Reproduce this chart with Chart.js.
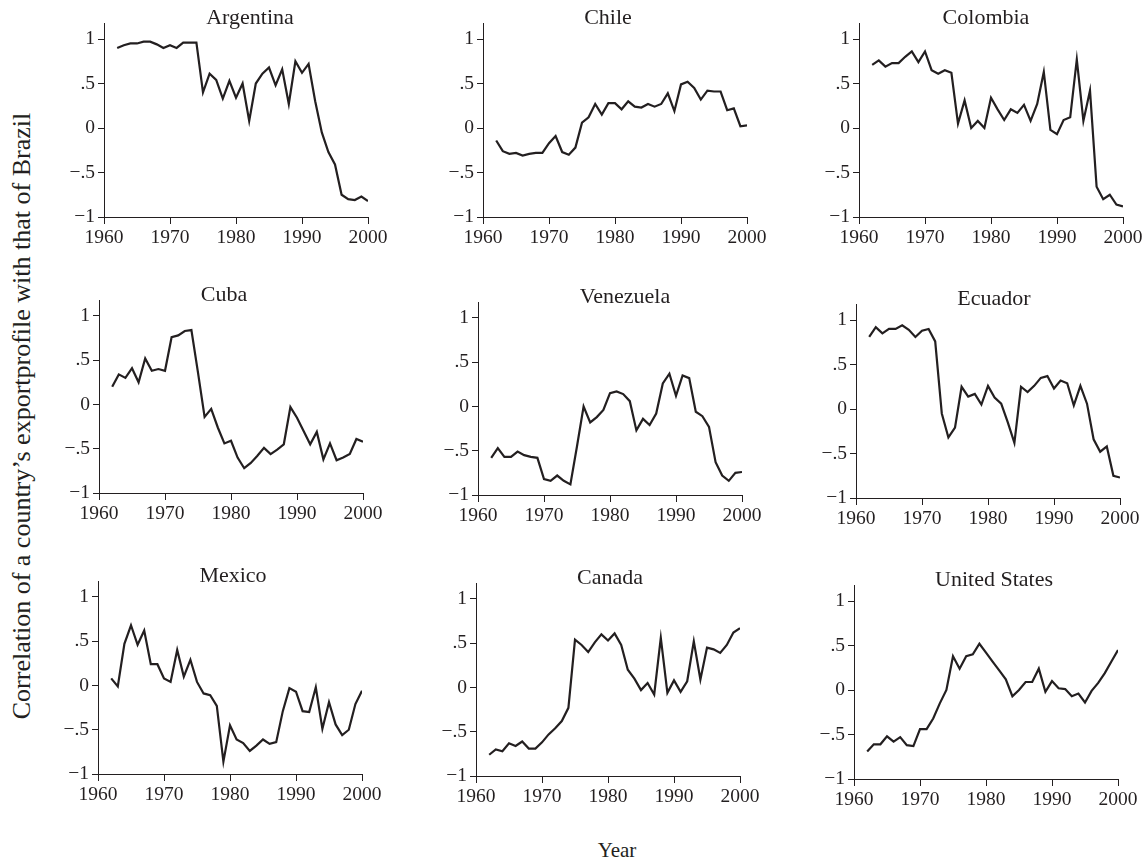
<!DOCTYPE html>
<html>
<head>
<meta charset="utf-8">
<script src="https://cdn.jsdelivr.net/npm/chart.js@4.4.1/dist/chart.umd.min.js"></script>
<style>
html,body{margin:0;padding:0;background:#fff;width:1144px;height:862px;overflow:hidden;position:relative;}
canvas{position:absolute;}
.lbl{position:absolute;font-family:'Liberation Serif','Times New Roman',serif;color:#231f20;white-space:nowrap;line-height:1;}
#ytitle{left:22px;top:416px;font-size:26px;transform:translate(-50%,-50%) rotate(-90deg);}
#xtitle{left:617px;top:840px;font-size:21px;transform:translateX(-50%);}
</style>
</head>
<body>
<div id="ytitle" class="lbl">Correlation of a country’s exportprofile with that of Brazil</div>
<div id="xtitle" class="lbl">Year</div>
<script>
// ---------- data ----------
const years = [1962,1963,1964,1965,1966,1967,1968,1969,1970,1971,1972,1973,1974,
               1975,1976,1977,1978,1979,1980,1981,1982,1983,1984,
               1985,1986,1987,1988,1989,1990,1991,1992,1993,1994,
               1995,1996,1997,1998,1999,2000];
const xTicks = [1960,1970,1980,1990,2000];
const yTicks = [-1,-0.5,0,0.5,1];
const yTickLabels = ['\u22121','\u2212.5','0','.5','1'];
const countries = ['Argentina','Chile','Colombia','Cuba','Venezuela','Ecuador','Mexico','Canada','United States'];

const argentina = [0.90,0.93,0.95,0.95,0.97,0.97,0.94,0.90,0.93,0.90,0.96,0.96,0.96,
                   0.40,0.61,0.54,0.33,0.53,0.34,0.50,0.08,0.50,0.61,
                   0.68,0.48,0.66,0.27,0.75,0.62,0.72,0.30,-0.05,-0.27,
                   -0.41,-0.75,-0.80,-0.81,-0.77,-0.82];
const chile = [-0.14,-0.26,-0.29,-0.28,-0.31,-0.29,-0.28,-0.28,-0.17,-0.09,-0.27,-0.30,-0.22,
               0.06,0.12,0.27,0.15,0.28,0.28,0.21,0.30,0.24,0.23,
               0.27,0.24,0.27,0.39,0.19,0.49,0.52,0.45,0.32,0.42,
               0.41,0.41,0.20,0.22,0.02,0.03];
const colombia = [0.71,0.76,0.69,0.73,0.73,0.80,0.86,0.74,0.86,0.65,0.61,0.65,0.62,
                  0.05,0.31,0.00,0.08,0.00,0.34,0.21,0.09,0.21,0.17,
                  0.26,0.08,0.27,0.63,-0.02,-0.07,0.09,0.12,0.77,0.08,
                  0.42,-0.66,-0.80,-0.75,-0.86,-0.88];
const cuba = [0.20,0.34,0.30,0.41,0.25,0.52,0.38,0.40,0.38,0.76,0.78,0.83,0.84,
              0.36,-0.14,-0.05,-0.26,-0.44,-0.41,-0.60,-0.72,-0.66,-0.58,
              -0.49,-0.56,-0.51,-0.45,-0.03,-0.15,-0.30,-0.45,-0.31,-0.62,
              -0.44,-0.63,-0.60,-0.56,-0.39,-0.42];
const venezuela = [-0.58,-0.47,-0.57,-0.57,-0.51,-0.55,-0.57,-0.58,-0.82,-0.84,-0.78,-0.84,-0.88,
                   -0.45,0.00,-0.18,-0.12,-0.04,0.15,0.17,0.14,0.06,-0.27,
                   -0.14,-0.21,-0.08,0.26,0.37,0.12,0.35,0.32,-0.06,-0.11,
                   -0.23,-0.63,-0.78,-0.84,-0.75,-0.74];
const ecuador = [0.81,0.92,0.85,0.90,0.90,0.94,0.89,0.81,0.88,0.90,0.76,-0.05,-0.32,
                 -0.21,0.25,0.14,0.17,0.05,0.26,0.13,0.06,-0.15,-0.38,
                 0.25,0.19,0.26,0.35,0.37,0.23,0.32,0.29,0.04,0.26,
                 0.06,-0.34,-0.48,-0.42,-0.75,-0.77];
const mexico = [0.08,-0.01,0.47,0.68,0.46,0.62,0.24,0.24,0.08,0.04,0.40,0.10,0.29,
                0.04,-0.09,-0.11,-0.23,-0.86,-0.45,-0.61,-0.65,-0.74,-0.68,
                -0.61,-0.66,-0.64,-0.29,-0.03,-0.07,-0.29,-0.30,-0.02,-0.49,
                -0.19,-0.44,-0.56,-0.50,-0.21,-0.06];
const canada = [-0.76,-0.70,-0.72,-0.63,-0.66,-0.61,-0.69,-0.69,-0.62,-0.53,-0.46,-0.38,-0.23,
                0.54,0.48,0.40,0.51,0.60,0.53,0.61,0.48,0.20,0.10,
                -0.03,0.05,-0.08,0.56,-0.06,0.08,-0.05,0.07,0.52,0.09,
                0.45,0.43,0.39,0.48,0.62,0.67];
const unitedStates = [-0.69,-0.61,-0.61,-0.52,-0.58,-0.53,-0.62,-0.63,-0.44,-0.44,-0.32,-0.15,0.00,
                      0.38,0.24,0.38,0.40,0.52,0.42,0.32,0.22,0.12,-0.07,
                      0.00,0.09,0.09,0.24,-0.02,0.10,0.02,0.01,-0.07,-0.04,
                      -0.14,-0.01,0.08,0.19,0.32,0.45];
const seriesList = [argentina,chile,colombia,cuba,venezuela,ecuador,mexico,canada,unitedStates];

// ---------- layout (plot-area placement, pixels) ----------
const panelLayout = [
  {L:104,T:23,B:217,dx:14},
  {L:483,T:23,B:217,dx:-7},
  {L:859,T:23,B:217,dx:-5},
  {L:99, T:300,B:493,dx:-7},
  {L:478,T:302,B:495,dx:15},
  {L:856,T:304,B:498,dx:6},
  {L:98, T:581,B:774,dx:3},
  {L:476,T:583,B:776,dx:2},
  {L:854,T:585,B:779,dx:8}
];
const PW = 264, PADL = 60, PADT = 24, PADR = 26, PADB = 40;
const INK = '#231f20';
const FONT = "'Liberation Serif','Times New Roman',serif";

const titlePlugin = {
  id: 'ptitle',
  afterDraw(chart, args, opts) {
    const a = chart.chartArea, ctx = chart.ctx;
    ctx.save();
    ctx.font = '22px ' + FONT;
    ctx.fillStyle = INK;
    ctx.textAlign = 'center';
    ctx.textBaseline = 'alphabetic';
    ctx.fillText(opts.text, (a.left + a.right) / 2 + opts.dx, a.top + 1);
    ctx.restore();
  }
};

countries.forEach((name, k) => {
  const p = panelLayout[k];
  const H = p.B - p.T;
  const c = document.createElement('canvas');
  c.width = PW + PADL + PADR;
  c.height = H + PADT + PADB;
  c.style.left = (p.L - PADL) + 'px';
  c.style.top = (p.T - PADT) + 'px';
  c.style.width = c.width + 'px';
  c.style.height = c.height + 'px';
  document.body.appendChild(c);
  const vals = seriesList[k];
  new Chart(c, {
    type: 'line',
    data: {
      datasets: [{
        data: years.map((yr, i) => ({x: yr, y: vals[i]})),
        borderColor: INK,
        borderWidth: 2.2,
        pointRadius: 0,
        tension: 0,
        fill: false
      }]
    },
    options: {
      responsive: false,
      animation: false,
      devicePixelRatio: 1,
      layout: {padding: {top: PADT, right: PADR, left: 0, bottom: 0}},
      plugins: {
        legend: {display: false},
        tooltip: {enabled: false},
        title: {display: false},
        ptitle: {text: name, dx: p.dx}
      },
      scales: {
        x: {
          type: 'linear', min: 1960, max: 2000,
          afterFit: s => { s.height = PADB; },
          afterBuildTicks: s => { s.ticks = xTicks.map(v => ({value: v})); },
          ticks: {
            color: INK, font: {family: FONT, size: 19.5}, padding: 2,
            maxRotation: 0, autoSkip: false,
            callback: v => String(v)
          },
          grid: {display: true, drawOnChartArea: false, drawTicks: true, tickLength: 7, color: INK, lineWidth: 1},
          border: {display: true, color: INK, width: 1}
        },
        y: {
          type: 'linear', min: -1, max: 1.18,
          afterFit: s => { s.width = PADL; },
          afterBuildTicks: s => { s.ticks = yTicks.map(v => ({value: v})); },
          ticks: {
            color: INK, font: {family: FONT, size: 19.5}, padding: 3,
            autoSkip: false,
            callback: (v, i) => yTickLabels[i]
          },
          grid: {display: true, drawOnChartArea: false, drawTicks: true, tickLength: 6, color: INK, lineWidth: 1},
          border: {display: true, color: INK, width: 1}
        }
      }
    },
    plugins: [titlePlugin]
  });
});
</script>
</body>
</html>
